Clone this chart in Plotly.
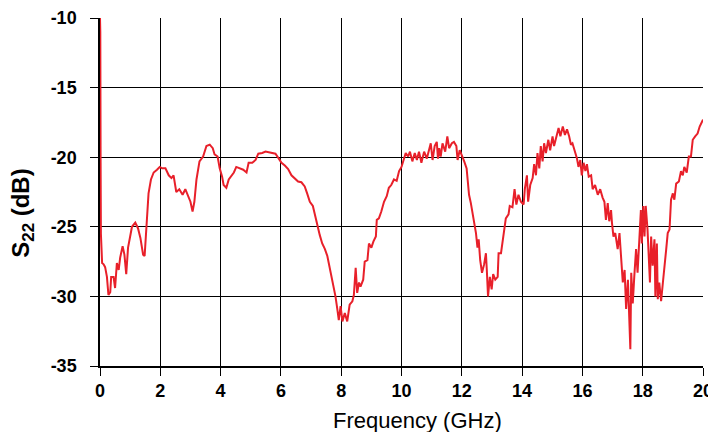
import plotly.graph_objects as go

freq_ghz = [
    0.0, 0.01, 0.02, 0.03, 0.07, 0.12, 0.17, 0.23, 0.28, 0.34, 0.37, 0.45, 0.50, 0.56, 0.62, 0.67,
    0.75, 0.81, 0.87, 0.93, 1.00, 1.06, 1.17, 1.26, 1.34, 1.43, 1.48, 1.53, 1.58, 1.61, 1.69,
    1.78, 1.89, 1.98, 2.06, 2.17, 2.28, 2.37, 2.44, 2.53, 2.63, 2.74, 2.83, 2.91, 3.00, 3.07,
    3.13, 3.20, 3.30, 3.42, 3.53, 3.64, 3.74, 3.80, 3.90, 3.97, 4.05, 4.10, 4.19, 4.27, 4.35,
    4.44, 4.52, 4.63, 4.75, 4.86, 4.93, 5.05, 5.16, 5.25, 5.38, 5.49, 5.65, 5.82, 5.93, 6.02,
    6.13, 6.24, 6.35, 6.46, 6.57, 6.68, 6.79, 6.87, 6.96, 7.06, 7.15, 7.23, 7.29, 7.37, 7.46,
    7.54, 7.61, 7.68, 7.76, 7.81, 7.87, 7.92, 7.98, 8.04, 8.12, 8.20, 8.28, 8.37, 8.42, 8.48,
    8.53, 8.59, 8.64, 8.73, 8.78, 8.87, 8.92, 9.00, 9.07, 9.15, 9.18, 9.25, 9.33, 9.42, 9.51,
    9.58, 9.66, 9.75, 9.84, 9.92, 10.00, 10.06, 10.14, 10.22, 10.28, 10.36, 10.44, 10.51, 10.58,
    10.66, 10.75, 10.84, 10.91, 10.97, 11.03, 11.10, 11.17, 11.21, 11.25, 11.30, 11.36, 11.45,
    11.52, 11.58, 11.67, 11.74, 11.82, 11.86, 11.93, 12.00, 12.08, 12.16, 12.21, 12.24, 12.30,
    12.36, 12.41, 12.47, 12.52, 12.56, 12.61, 12.67, 12.74, 12.80, 12.83, 12.87, 12.93, 12.99,
    13.04, 13.11, 13.19, 13.22, 13.30, 13.35, 13.41, 13.46, 13.55, 13.59, 13.68, 13.75, 13.81,
    13.88, 13.96, 14.05, 14.09, 14.16, 14.20, 14.27, 14.35, 14.40, 14.46, 14.51, 14.57, 14.62,
    14.68, 14.73, 14.79, 14.87, 14.93, 15.01, 15.06, 15.14, 15.21, 15.27, 15.35, 15.42, 15.49,
    15.56, 15.62, 15.67, 15.75, 15.82, 15.87, 15.93, 15.98, 16.04, 16.10, 16.15, 16.21, 16.29,
    16.34, 16.42, 16.51, 16.59, 16.67, 16.73, 16.78, 16.84, 16.89, 16.95, 16.98, 17.03, 17.09,
    17.17, 17.23, 17.28, 17.34, 17.40, 17.45, 17.51, 17.54, 17.59, 17.62, 17.67, 17.72, 17.78,
    17.83, 17.89, 17.94, 17.97, 18.02, 18.06, 18.10, 18.16, 18.20, 18.24, 18.28, 18.33, 18.39,
    18.42, 18.47, 18.50, 18.55, 18.61, 18.67, 18.72, 18.78, 18.83, 18.89, 18.94, 19.00, 19.05,
    19.11, 19.20, 19.27, 19.33, 19.38, 19.46, 19.53, 19.60, 19.66, 19.74, 19.82, 19.89, 19.98,
    20.0,
]

s22_db = [
    -10.0, -11.0, -20.2, -25.5, -27.6, -27.7, -27.9, -28.6, -29.9, -29.7, -28.6, -28.6, -29.4, -27.6, -28.1, -27.2,
    -26.4, -27.0, -28.4, -26.5, -25.7, -25.0, -24.7, -25.1, -25.8, -27.0, -27.1, -25.2, -23.8, -22.6, -21.6,
    -21.1, -20.9, -20.7, -20.8, -20.8, -21.3, -21.5, -21.3, -22.5, -22.3, -22.7, -22.3, -22.7, -23.2, -23.9,
    -23.2, -21.6, -20.3, -19.95, -19.2, -19.1, -19.35, -19.8, -19.95, -20.8, -21.4, -22.0, -22.2, -21.6, -21.4,
    -21.1, -20.7, -20.8, -20.9, -21.1, -20.4, -20.4, -20.2, -19.75, -19.7, -19.6, -19.65, -19.75, -20.1, -20.4,
    -20.6, -20.85, -21.3, -21.5, -21.75, -21.8, -22.1, -22.6, -23.2, -23.5, -24.4, -25.1, -25.6, -26.2, -26.6,
    -27.1, -27.8, -28.6, -29.3, -30.0, -30.9, -31.7, -30.7, -31.8, -31.2, -31.8, -30.6, -30.35, -29.9, -27.95,
    -29.75, -29.0, -29.3, -28.8, -27.5, -27.4, -26.2, -26.5, -26.05, -25.7, -24.5, -24.4, -23.9, -23.2, -22.8,
    -22.2, -22.0, -21.6, -21.7, -21.0, -20.7, -20.2, -19.7, -19.95, -19.6, -20.3, -19.7, -20.2, -19.6,
    -20.4, -19.6, -20.1, -19.5, -19.0, -20.2, -19.2, -18.9, -20.1, -19.35, -19.95, -19.0, -19.6,
    -18.5, -19.35, -19.0, -18.9, -19.2, -20.2, -19.5, -19.95, -20.3, -20.8, -21.9, -22.7, -23.3,
    -24.0, -24.7, -25.45, -26.5, -25.9, -27.4, -28.3, -27.7, -26.9, -28.1, -30.0, -28.6, -29.5,
    -28.4, -28.8, -28.6, -26.9, -26.9, -26.2, -25.2, -24.4, -24.1, -23.5, -23.6, -22.3, -23.4,
    -22.7, -23.2, -23.4, -22.3, -21.3, -23.2, -22.0, -21.5, -20.5, -21.3, -19.7, -20.8, -19.2,
    -20.3, -19.0, -19.7, -18.75, -19.5, -18.5, -19.2, -18.4, -17.9, -18.5, -17.8, -18.4, -18.0,
    -18.5, -19.1, -19.0, -19.5, -20.1, -20.7, -20.2, -21.3, -20.4, -21.0, -20.5, -21.4, -21.3,
    -22.3, -22.0, -22.7, -22.3, -22.9, -23.2, -24.5, -23.3, -24.6, -23.8, -24.7, -25.7, -25.45,
    -26.6, -25.45, -27.4, -29.0, -28.1, -30.9, -28.8, -31.2, -33.8, -28.3, -30.5, -28.6, -26.6,
    -28.3, -25.2, -23.8, -26.2, -23.5, -25.7, -23.5, -25.2, -27.8, -29.0, -25.7, -27.8, -25.9,
    -30.0, -26.2, -30.2, -29.0, -30.35, -29.0, -27.6, -26.6, -25.45, -25.2, -23.05, -22.6, -23.05,
    -21.9, -21.75, -21.0, -21.3, -20.7, -21.1, -19.95, -19.95, -18.75, -18.5, -18.3, -17.8, -17.45,
    -17.3,
]

x_ticks = [0, 2, 4, 6, 8, 10, 12, 14, 16, 18, 20]
x_tick_labels = ["0", "2", "4", "6", "8", "10", "12", "14", "16", "18", "20"]
y_ticks = [-35, -30, -25, -20, -15, -10]
y_tick_labels = ["-35", "-30", "-25", "-20", "-15", "-10"]

fig = go.Figure()
fig.add_trace(go.Scatter(
    x=freq_ghz, y=s22_db, mode="lines",
    line=dict(color="#e8202a", width=2),
    showlegend=False, cliponaxis=True,
))

tick_font = dict(family="Liberation Sans, Arial, sans-serif", size=18, color="black", weight="bold")
x_title_font = dict(family="Liberation Sans, Arial, sans-serif", size=22, color="black")
y_title_font = dict(family="Liberation Sans, Arial, sans-serif", size=24, color="black", weight="bold")

# the page body has an 8px margin, so the figure is sized/offset to compensate
fig.update_layout(
    width=708, height=424,
    margin=dict(l=92, r=13, t=10, b=66, autoexpand=False),
    paper_bgcolor="white", plot_bgcolor="white",
    xaxis=dict(
        range=[0, 20], tickvals=x_ticks, ticktext=x_tick_labels,
        showgrid=True, gridcolor="black", gridwidth=1,
        showline=True, linecolor="black", linewidth=1.5,
        ticks="outside", ticklen=8, tickcolor="black", tickwidth=1,
        tickfont=tick_font, zeroline=False, mirror=False, automargin=False,
        ticklabeloverflow="allow",
    ),
    yaxis=dict(
        range=[-35, -10], tickvals=y_ticks, ticktext=y_tick_labels,
        showgrid=True, gridcolor="black", gridwidth=1,
        showline=True, linecolor="black", linewidth=1.5,
        ticks="outside", ticklen=8, tickcolor="black", tickwidth=1,
        tickfont=tick_font, zeroline=False, ticklabelstandoff=10, automargin=False,
        ticklabeloverflow="allow",
    ),
    annotations=[
        dict(text="Frequency (GHz)", xref="paper", yref="paper", x=0.527, y=-0.115,
             xanchor="center", yanchor="top", showarrow=False, font=x_title_font),
        dict(text="S<sub>22</sub> (dB)", xref="paper", yref="paper", x=-0.128, y=0.44,
             xanchor="center", yanchor="middle", showarrow=False, textangle=-90,
             font=y_title_font),
    ],
)

fig.write_html("out.html")
